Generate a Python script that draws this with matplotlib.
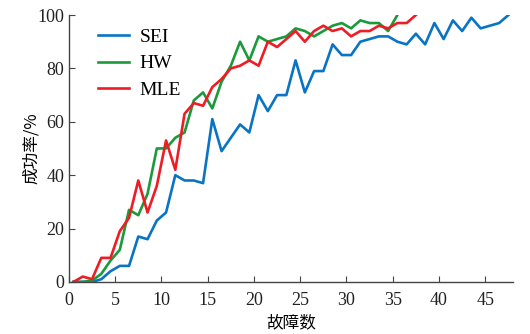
import numpy as np
import matplotlib
matplotlib.use('Agg')
import matplotlib.pyplot as plt

# values, one point per fault (plotted at k + 0.5)
sei = [0, 0, 0, 1, 4, 6, 6, 17, 16, 23, 26, 40, 38, 38, 37, 61, 49, 54, 59, 56,
       70, 64, 70, 70, 83, 71, 79, 79, 89, 85, 85, 90, 91, 92, 92, 90, 89, 93,
       89, 97, 91, 98, 94, 99, 95, 96, 97, 100]
hw = [0, 0, 0.5, 3, 8, 12, 27, 25, 33, 50, 50, 54, 56, 68, 71, 65, 75, 81, 90,
      83, 92, 90, 91, 92, 95, 94, 92, 94, 96, 97, 95, 98, 97, 97, 94, 100]
mle = [0, 2, 1, 9, 9, 19, 24, 38, 26, 36, 53, 42, 63, 67, 66, 73, 76, 80, 81,
       83, 81, 90, 88, 91, 94, 90, 94, 96, 94, 95, 92, 94, 94, 96, 95, 97, 97, 100]

plt.rcParams['font.family'] = ['Liberation Serif', 'Noto Sans CJK SC']
plt.rcParams['font.size'] = 13

fig = plt.figure(figsize=(5.3, 3.34), dpi=100)
ax = fig.add_axes([0.130, 0.156, 0.838, 0.799])

ax.plot(np.arange(len(sei)) + 0.5, sei, color='#0a74c4', lw=1.9, label='SEI')
ax.plot(np.arange(len(hw)) + 0.5, hw, color='#1a9a3a', lw=1.9, label='HW')
ax.plot(np.arange(len(mle)) + 0.5, mle, color='#ee1c25', lw=1.9, label='MLE')

ax.set_xlim(0, 48)
ax.set_ylim(0, 100)
ax.set_xticks(range(0, 46, 5))
ax.set_yticks(range(0, 101, 20))
ax.spines['top'].set_visible(False)
ax.spines['right'].set_visible(False)
for s in ['left', 'bottom']:
    ax.spines[s].set_color('#444444')
    ax.spines[s].set_linewidth(1.0)
ax.tick_params(direction='in', length=4, color='#444444', labelcolor='#222222')
ax.tick_params(axis='x', pad=7)

ax.set_xlabel('故障数', family=['Noto Sans CJK SC'], fontsize=12, labelpad=4)
ax.set_ylabel('成功率/%', family=['Noto Sans CJK SC'], fontsize=12, labelpad=-2)

ax.legend(loc='upper left', bbox_to_anchor=(0.025, 1.015), frameon=False,
          fontsize=14, handlelength=1.6, handletextpad=0.55, labelspacing=0.45)

fig.savefig('out.png', dpi=100)
